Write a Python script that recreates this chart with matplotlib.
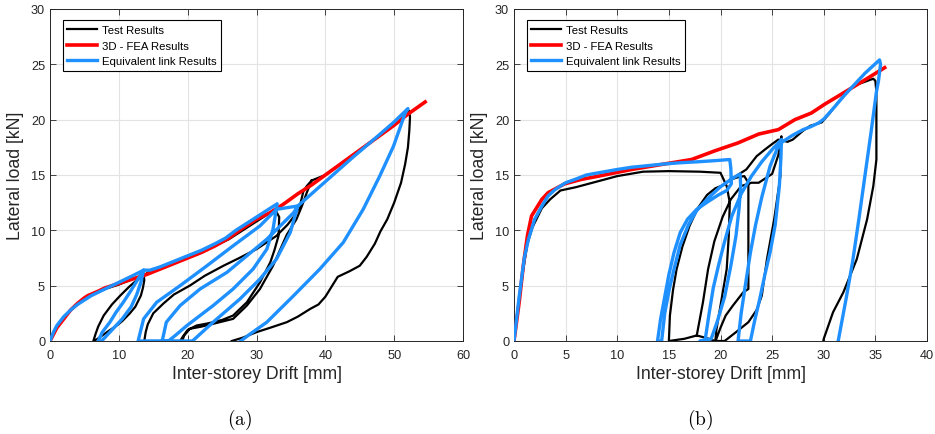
import numpy as np
import matplotlib
matplotlib.use("Agg")
import matplotlib.pyplot as plt

plt.rcParams['font.family'] = ['Liberation Sans', 'DejaVu Sans']
plt.rcParams['mathtext.fontset'] = 'cm'

nan = np.nan

# ---------------- (a) data ----------------
a_test = [(0,0),(0.5,0.8),(1,1.3),(2,2.1),(3,2.8),(4,3.3),(5,3.8),(6,4.2),(8,4.7),(10,5.1),(12,5.6),(13.6,6.0),
          (13.7,5.5),(13.5,4.8),(13.2,4.1),(12.4,3.1),(11.6,2.5),(10.5,1.8),(9.7,1.4),(8.5,0.9),(7.6,0.5),(6.8,0.15),(6.3,0),
          (6.6,0.6),(7,1.3),(7.8,2.3),(9,3.3),(10.2,4.1),(11.5,4.9),(12.8,5.6),(14.5,6.3),(16.5,6.8),(18.5,7.2),(20,7.5),
          (22,8.0),(24,8.6),(26,9.2),(28,10.0),(30,10.8),(31.5,11.4),(32.7,11.9),
          (33.3,11.2),(33.2,9.5),(32.6,8.2),(32.0,7.1),(30.5,5.3),(28.6,3.5),(26.6,2.3),(25,1.9),(23,1.6),(21.3,1.4),
          (20,1.0),(19.3,0.4),(18.9,0),(16.9,0),(13.7,0),
          (13.9,0.8),(14.2,1.5),(15,2.5),(16.5,3.4),(18,4.2),(20.3,5.0),(22.5,5.9),(25.2,6.8),(27.5,7.5),(30,8.3),
          (32.9,9.5),(34.5,10.5),(35.5,11.3),(36.3,12.2),(36.8,13.5),(37.3,14.0),(38,14.5),
          (37.3,13.4),(36.6,12.2),(35.8,11.0),(34.4,9.6),(33.9,8.9),(32.4,6.8),(30.5,4.7),(28.6,3.2),(26.6,2.0),
          (24,1.6),(22,1.3),(20.3,1.1),(19.5,0.5),(19.2,0),
          (nan,nan),
          (38,14.5),(40,15.0),(42,15.9),(44,16.8),(46,17.7),(48,18.6),(50,19.5),(51.5,20.3),(52.2,20.8),
          (52.3,20.2),(52.2,19),(52,17.5),(51.6,16),(51,14.3),(50,12.5),(49,11),(48,9.9),(47.2,8.8),(46,7.6),(45,6.8),
          (43.5,6.3),(41.8,5.8),(41,5.0),(40,4.0),(39,3.3),(37.8,2.9),(36,2.2),(34.4,1.7),(32,1.2),(30,0.8),(28,0.3),(26.4,0)]

a_fea = [(0,0),(0.5,0.6),(1,1.2),(2,2.0),(3,2.8),(4,3.4),(5,3.9),(5.5,4.1),(7,4.5),(8,4.8),(10,5.2),(12,5.6),
         (14,6.0),(16,6.5),(18,7.0),(20,7.5),(22,8.0),(24,8.6),(26,9.3),(28,10.2),(30,11.0),(32,11.6),(34,12.4),
         (36,13.3),(38,14.1),(40,15.0),(42,15.9),(44,16.8),(46,17.7),(48,18.6),(50,19.5),(52,20.5),(54.5,21.6)]

a_link = [(0,0),(0.5,0.8),(1,1.4),(2,2.2),(3,2.8),(4,3.3),(5,3.7),(6,4.1),(8,4.7),(10,5.3),(12,5.9),(13.6,6.4),
          (13.2,5.3),(12.6,4.2),(11.8,3.1),(10.5,2.0),(9.0,1.0),(7.5,0),(7.0,0),
          (7.6,0.8),(8.7,1.7),(9.6,2.6),(10.65,3.5),(11.6,4.4),(12.5,5.3),(13.6,6.4),
          (14.5,6.4),(16,6.7),(18,7.2),(20,7.7),(22,8.2),(24,8.8),(25.5,9.3),(27,10.0),(29,10.8),(31,11.6),(33,12.4),
          (32.4,10.1),(31.5,8.3),(29.5,6.5),(26.6,4.7),(23.7,3.2),(19.9,1.4),(18.2,0.5),(17.2,0),(12.8,0),
          (13.6,2.0),(15.5,3.5),(18.9,5.0),(22.8,6.8),(26.6,8.6),(30.5,10.4),(32.9,11.9),(36.0,12.2),
          (34.9,9.8),(32.9,7.4),(30.5,5.6),(27.6,3.8),(23.7,1.7),(20.7,0),(16.3,0),
          (16.9,1.7),(18.9,3.2),(21.8,4.7),(25.7,6.2),(28.6,7.7),(31.5,9.2),(35.4,11.6),(36.0,12.2),
          (40,14.4),(44,16.6),(47.4,18.4),(50,19.8),(52.0,21.0),
          (51.6,20.6),(49.9,17.6),(47.9,14.9),(45.5,11.9),(42.6,8.9),(39.2,6.5),(35.4,4.1),(31.5,1.7),(29.0,0.6),(27.7,0)]

# ---------------- (b) data ----------------
b_test = [(0,0),(0.4,3),(0.9,6.5),(1.3,8.8),(1.8,10.3),(2.7,12.0),(3.5,12.8),(4.5,13.6),(6,13.9),(8,14.4),(10,14.9),
          (12.5,15.3),(15,15.35),(18,15.3),(20,15.2),(20.6,14.0),(20.9,12.5),(20.8,9.5),(20.6,6.5),(20.0,3.2),(19.6,1.0),
          (19.5,0),(18.5,0.3),(17.7,0.5),(16.5,0.2),(15.0,0),
          (15.1,2.3),(15.4,4.6),(15.75,6.5),(16.3,8.5),(17.0,10.4),(17.8,12.0),(18.7,13.2),(19.5,13.8),(20.3,14.1),
          (21.0,14.6),(21.7,14.8),(22.3,14.9),(22.7,14.3),(22.7,12.0),(22.7,8.0),(22.7,4.7),(22.2,4.4),(21.2,3.2),
          (20.5,2.3),(20.0,1.2),(19.6,0.2),
          (nan,nan),
          (17.7,0.5),(18.3,3.5),(18.8,6.5),(19.4,9.0),(20.2,11.2),(21.0,12.8),(22.0,14.0),(23.0,14.3),(23.7,14.3),
          (25.0,15.1),(25.6,16.8),(25.9,18.5),
          (25.8,16.5),(25.8,14.9),(25.2,11),(24.5,7.4),(24.0,4.1),(23.5,2.8),(22.7,1.7),(21.5,0.8),(20.4,0),(19.6,0),
          (nan,nan),
          (21.0,14.6),(22.5,15.5),(23.5,16.7),(24.3,17.3),(25.0,17.8),(25.6,18.2),(26.5,18.0),(27.0,18.2),(28,19.0),
          (28.7,19.45),(29.8,19.75),(30.5,20.5),(31.5,21.7),(32.9,23.06),(34.8,23.7),(35.0,23.5),(35.1,22.5),(35.1,19),
          (35.1,16.4),(34.8,14.0),(34.2,11.0),(33.2,7.4),(31.9,4.4),(30.9,2.6),(30.0,0.2),(29.96,0)]

b_fea = [(0,0),(0.5,3.5),(0.9,6.8),(1.3,9.5),(1.7,11.3),(2.7,12.8),(3.3,13.4),(4.9,14.2),(6.5,14.6),(8.2,14.9),
         (11.4,15.5),(14.6,16.0),(17.2,16.4),(19.5,17.2),(21.7,17.9),(23.7,18.7),(25.6,19.1),(27.2,20.0),(28.8,20.6),
         (30.1,21.4),(31.7,22.3),(34.0,23.6),(35.9,24.7)]

b_link = [(0,0),(0.5,4.0),(1.0,7.5),(1.4,9.2),(2.0,11.0),(2.7,12.2),(3.3,13.1),(4.0,13.7),(5.0,14.3),(5.9,14.6),
          (7.0,15.0),(8.2,15.2),(10,15.5),(11.4,15.7),(13,15.85),(14.6,16.0),(16,16.1),(17.9,16.2),(19.5,16.3),(20.9,16.4),
          (21.0,15.6),(21.05,14.2),(20.6,13.6),(19.8,13.2),(18.8,12.6),(17.7,11.9),(16.8,11.0),(16.1,9.8),(15.5,8.0),
          (15.0,6.0),(14.6,4.0),(14.2,2.0),(13.9,0),(14.3,0),
          (14.6,2.5),(15.0,4.5),(15.5,6.5),(16.1,8.7),(16.9,10.5),(17.7,11.8),(18.8,12.9),(19.95,13.9),(21.0,14.6),(21.9,15.1),
          (21.95,14.0),(21.8,12.0),(21.5,9.5),(21.0,6.8),(20.4,4.0),(19.7,1.8),(19.1,0.2),(18.0,0),(18.5,0),
          (18.9,2.5),(19.3,4.8),(19.8,6.8),(20.4,9.0),(21.1,11.3),(22.0,13.3),(23.0,14.9),(24.0,16.2),(25.0,17.3),(25.9,18.2),
          (25.85,16.5),(25.7,14),(25.3,10.5),(24.8,8.0),(24.3,6.0),(23.8,3.8),(23.3,1.8),(22.9,0),(21.7,0),
          (22.0,2.5),(22.4,5.0),(22.9,8.0),(23.4,10.5),(24.0,13),(24.8,15.8),(25.5,17.4),(26,18.0),
          (27,18.6),(28,19.1),(28.7,19.35),(29.5,19.7),(30.0,20.05),(31,21.1),(32,22.2),(32.9,23.1),(34,24.2),(35.4,25.4),
          (35.5,25.0),(35.3,23.5),(35.1,22.5),(34.6,19),(34.0,15),(33.4,11),(32.8,7.2),(32.2,4),(31.8,2),(31.4,0)]

labels = ["Test Results", "3D - FEA Results", "Equivalent link Results"]
xlim_a, xticks_a = (0, 60), [0, 10, 20, 30, 40, 50, 60]
xlim_b, xticks_b = (0, 40), [0, 5, 10, 15, 20, 25, 30, 35, 40]
ylim, yticks = (0, 30), [0, 5, 10, 15, 20, 25, 30]
captions = ["(a)", "(b)"]

# ---------------- figure ----------------
fig = plt.figure(figsize=(9.35, 4.35), dpi=100)
ax_a = fig.add_axes([50/935, 93/435, 413/935, 332/435])
ax_b = fig.add_axes([514/935, 93/435, 413/935, 332/435])

frame = '#262626'
for ax, test, fea, link, xl, xt in [(ax_a, a_test, a_fea, a_link, xlim_a, xticks_a),
                                    (ax_b, b_test, b_fea, b_link, xlim_b, xticks_b)]:
    t = np.array(test); f = np.array(fea); l = np.array(link)
    ax.plot(t[:, 0], t[:, 1], color='black', lw=1.6, label=labels[0], zorder=3)
    ax.plot(f[:, 0], f[:, 1], color='#ff0000', lw=2.6, label=labels[1], zorder=4)
    ax.plot(l[:, 0], l[:, 1], color='#1e90ff', lw=2.4, label=labels[2], zorder=5)
    ax.set_xlim(*xl); ax.set_ylim(*ylim)
    ax.set_xticks(xt); ax.set_yticks(yticks)
    ax.grid(True, color='#e3e3e3', lw=0.8, zorder=0)
    ax.set_axisbelow(True)
    ax.tick_params(direction='in', length=4, width=0.6, colors=frame, labelsize=9.2,
                   top=True, right=True, labelcolor='#262626')
    ax.tick_params(axis='x', pad=6)
    ax.tick_params(axis='y', pad=3.5)
    for s in ax.spines.values():
        s.set_color(frame); s.set_linewidth(0.7)
    ax.set_xlabel("Inter-storey Drift [mm]", fontsize=12.7, color='#262626', labelpad=3)
    ax.set_ylabel("Lateral load [kN]", fontsize=12.7, color='#262626', labelpad=5)
    leg = ax.legend(loc='upper left', bbox_to_anchor=(0.031, 0.966), borderaxespad=0,
                    fontsize=8.2, handlelength=2.6, handletextpad=0.4, labelspacing=0.5,
                    fancybox=False, framealpha=1, edgecolor='black', borderpad=0.4)
    leg.get_frame().set_linewidth(0.8)

fig.text(240/935, 1 - 420/435, r'$\mathrm{(a)}$', ha='center', va='center', fontsize=14)
fig.text(700/935, 1 - 420/435, r'$\mathrm{(b)}$', ha='center', va='center', fontsize=14)

fig.savefig('out.png', dpi=100)
